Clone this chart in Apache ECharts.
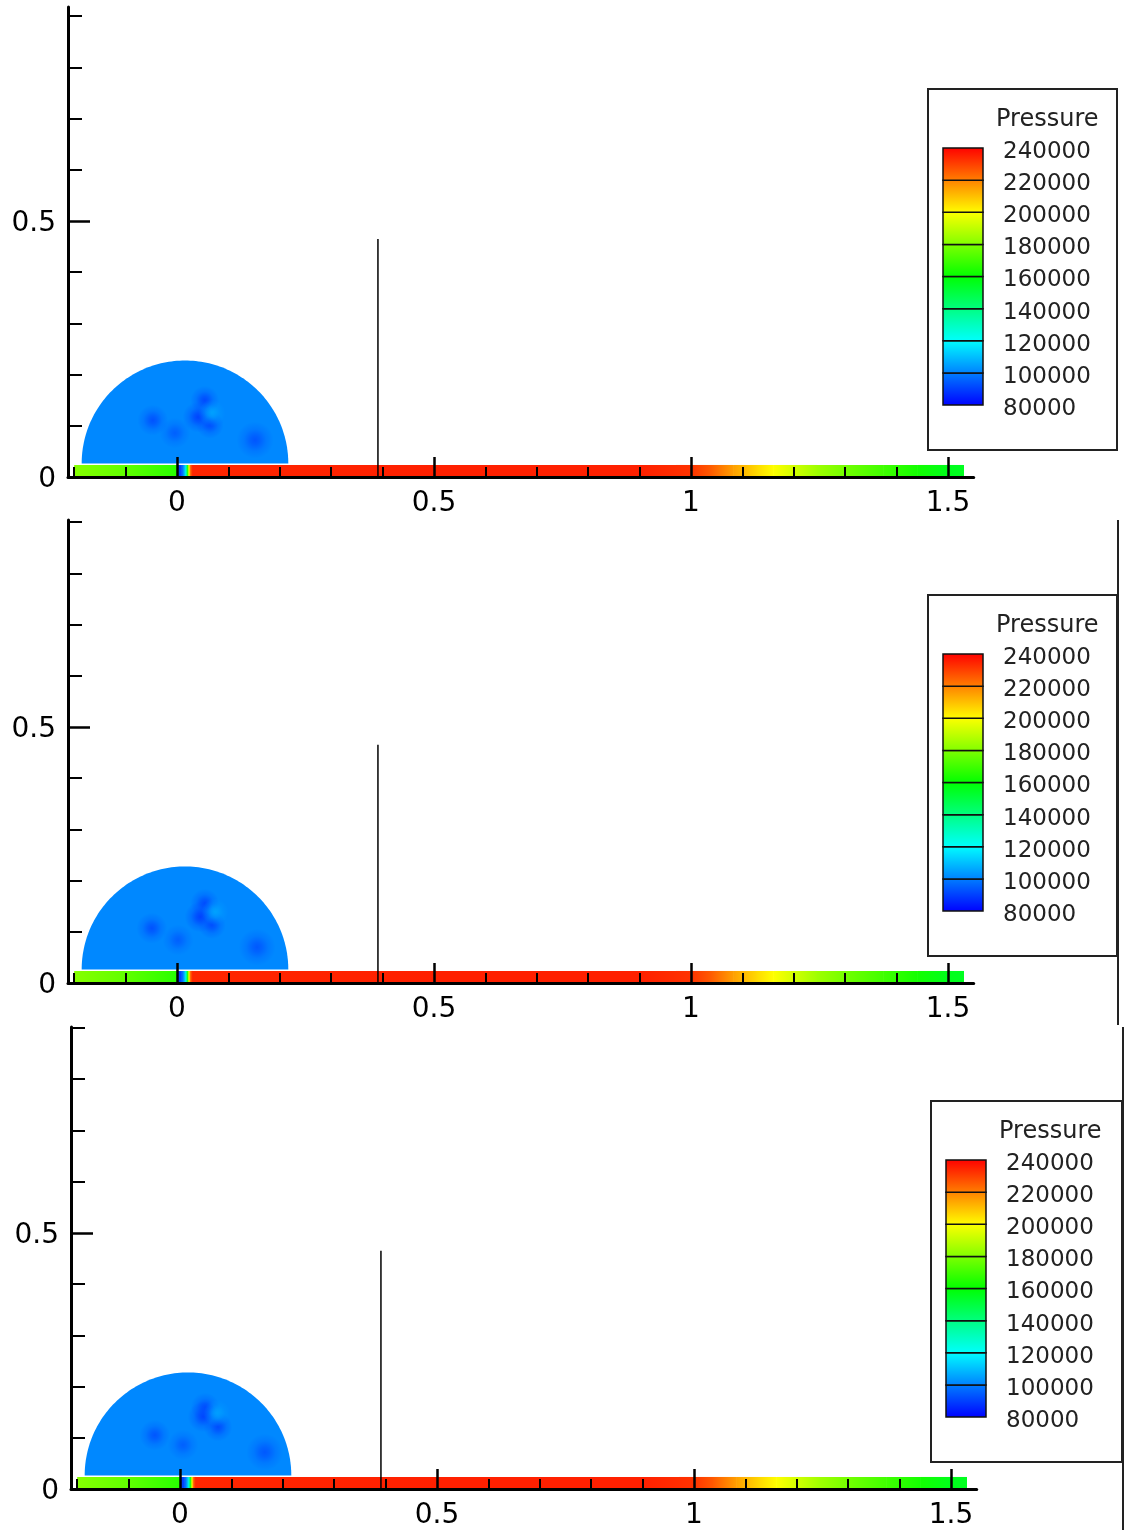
<!DOCTYPE html>
<html>
<head>
<meta charset="utf-8">
<script src="https://cdn.jsdelivr.net/npm/echarts@6/dist/echarts.min.js"></script>
<style>html,body{margin:0;padding:0;background:#fff;}#c{width:1127px;height:1530px;}</style>
</head>
<body>
<div id="c"></div>
<script>
// ---------- data ----------
const levels = [80000, 100000, 120000, 140000, 160000, 180000, 200000, 220000, 240000];
const mapColors = ['#0000ff', '#00ffff', '#00ff00', '#ffff00', '#ff0000'];
const xMajor = [0, 0.5, 1, 1.5];
const xMinor = [-0.2, -0.1, 0.1, 0.2, 0.3, 0.4, 0.6, 0.7, 0.8, 0.9, 1.1, 1.2, 1.3, 1.4];
const yMajor = [0, 0.5];
const yMinor = [0.1, 0.2, 0.3, 0.4, 0.6, 0.7, 0.8, 0.9];
// pressure along the bottom strip
const stripX = [-0.2, -0.1, -0.01, -0.001, 0.001, 0.008, 0.013, 0.017, 0.020, 0.023, 0.026, 0.03, 0.5, 0.9, 0.97, 1.0, 1.037, 1.082, 1.128, 1.16, 1.2, 1.245, 1.309, 1.374, 1.44, 1.498, 1.53];
const stripP = [181000, 175000, 167000, 166000, 88000, 92000, 105000, 125000, 160000, 200000, 225000, 234000, 235000, 235000, 233000, 232000, 226000, 215000, 206000, 200000, 193000, 185000, 177000, 170000, 163000, 156000, 155000];
const stripTop = 0.0235;
// dome (gas bubble)
const domeCenter = [0.0156, 0.0265];
const domeRadius = 0.201;
const domeP = 101300;
// low / high pressure spots inside the dome: [x, y, pressure, radius]
const spots1 = [[0.054, 0.150, 90000, 0.028], [0.041, 0.117, 89000, 0.03], [0.064, 0.102, 91000, 0.027], [-0.047, 0.111, 91500, 0.03], [-0.004, 0.086, 94000, 0.03], [0.152, 0.072, 92000, 0.036], [0.068, 0.125, 106000, 0.026]];
const spots2 = [[0.054, 0.156, 90500, 0.028], [0.045, 0.129, 88500, 0.03], [0.068, 0.113, 91000, 0.027], [-0.049, 0.107, 91500, 0.03], [0.002, 0.084, 94000, 0.03], [0.156, 0.070, 92500, 0.036], [0.074, 0.139, 106000, 0.026]];
const spots3 = [[0.049, 0.160, 91500, 0.028], [0.045, 0.141, 89500, 0.03], [0.074, 0.121, 90500, 0.028], [-0.049, 0.105, 92000, 0.03], [0.006, 0.086, 94000, 0.03], [0.165, 0.072, 92500, 0.036], [0.072, 0.148, 105500, 0.026]];
const wallX = [0.391, 0.391];
const wallY = [0, 0.465];
const xRange = [-0.212, 1.55];

// ---------- layout ----------
const FONT = 'DejaVu Sans';
const PXU = 514;
const panels = [
  {left: 68, top: 7,    height: 470, ymax: 0.918, box: [928, 89, 189, 361],  bar: [943, 148],  frame: null, spots: spots1},
  {left: 68, top: 520,  height: 463, ymax: 0.904, box: [928, 595, 189, 361], bar: [943, 654],  frame: [1118, 520, 1025], spots: spots2},
  {left: 71, top: 1027, height: 462, ymax: 0.902, box: [931, 1101, 191, 361], bar: [946, 1160], frame: [1123, 1027, 1530], spots: spots3}
];

const pMin = levels[0], pMax = levels[levels.length - 1];
function colorAt(p) {
  const t = Math.max(0, Math.min(1, (p - pMin) / (pMax - pMin)));
  return echarts.color.lerp(t, mapColors);
}

const stripData = [];
for (let i = 0; i < stripX.length - 1; i++) stripData.push([stripX[i], stripX[i + 1], stripP[i], stripP[i + 1]]);
const bandData = [];
for (let i = 0; i < levels.length - 1; i++) bandData.push([0, levels[i], levels[i + 1]]);

function renderStrip(params, api) {
  const a = api.coord([api.value(0), 0]);
  const b = api.coord([api.value(1), stripTop]);
  return {
    type: 'rect',
    shape: {x: a[0], y: b[1], width: b[0] - a[0] + 0.6, height: a[1] - b[1]},
    style: {fill: new echarts.graphic.LinearGradient(0, 0, 1, 0, [
      {offset: 0, color: colorAt(api.value(2))}, {offset: 1, color: colorAt(api.value(3))}])}
  };
}
function renderDome(params, api) {
  const cx = api.value(0), cy = api.value(1), r = api.value(2);
  const pts = [];
  const N = 120;
  for (let k = 0; k <= N; k++) {
    const th = Math.PI * k / N;
    pts.push(api.coord([cx + r * Math.cos(th), cy + r * Math.sin(th)]));
  }
  return {type: 'polygon', shape: {points: pts}, style: {fill: colorAt(domeP)}};
}
function renderSpot(params, api) {
  const c = api.coord([api.value(0), api.value(1)]);
  const rs = api.size([api.value(3), api.value(3)]);
  const col = colorAt(api.value(2));
  return {
    type: 'circle',
    shape: {cx: c[0], cy: c[1], r: rs[0]},
    style: {fill: new echarts.graphic.RadialGradient(0.5, 0.5, 0.5, [
      {offset: 0, color: echarts.color.modifyAlpha(col, 0.85)},
      {offset: 0.25, color: echarts.color.modifyAlpha(col, 0.65)},
      {offset: 0.6, color: echarts.color.modifyAlpha(col, 0.25)},
      {offset: 1, color: echarts.color.modifyAlpha(col, 0)}])}
  };
}
function renderBand(params, api) {
  const lo = api.value(1), hi = api.value(2);
  const tl = api.coord([0, hi]);
  const br = api.coord([1, lo]);
  return {
    type: 'rect',
    shape: {x: tl[0], y: tl[1], width: br[0] - tl[0], height: br[1] - tl[1]},
    style: {
      fill: new echarts.graphic.LinearGradient(0, 0, 0, 1, [
        {offset: 0, color: colorAt(hi)}, {offset: 1, color: colorAt(lo)}]),
      stroke: '#111', lineWidth: 1.5
    }
  };
}

const grid = [], xAxis = [], yAxis = [], series = [], title = [], graphic = [];
panels.forEach((P, i) => {
  const W = (xRange[1] - xRange[0]) * PXU;
  grid.push({left: P.left, top: P.top, width: W, height: P.height, containLabel: false});        // plot
  grid.push({left: P.bar[0], top: P.bar[1], width: 40, height: 257, containLabel: false});      // colour bar
  grid.push({left: P.bar[0], top: P.bar[1] + 4, width: 40, height: 257, containLabel: false});  // colour bar labels
  grid.push({left: P.left, top: P.top + 3, width: W, height: P.height, containLabel: false});    // y labels
  const g = 4 * i;
  // plot axes: x index 4i (major), 4i+1 (minor); y index 4i, 4i+1
  xAxis.push({type: 'value', gridIndex: g, position: 'bottom', min: xRange[0], max: xRange[1], z: 5,
    axisLine: {show: true, onZero: false, lineStyle: {color: '#000', width: 3}},
    axisTick: {show: true, inside: true, length: 20, customValues: xMajor, lineStyle: {color: '#000', width: 2.5}},
    axisLabel: {show: true, customValues: xMajor, margin: 13, color: '#000', fontFamily: FONT, fontSize: 28, formatter: v => String(v)},
    splitLine: {show: false}});
  xAxis.push({type: 'value', gridIndex: g, position: 'bottom', min: xRange[0], max: xRange[1], z: 5,
    axisLine: {show: false, onZero: false},
    axisTick: {show: true, inside: true, length: 10, customValues: xMinor, lineStyle: {color: '#000', width: 2}},
    axisLabel: {show: false}, splitLine: {show: false}});
  xAxis.push({type: 'value', gridIndex: g + 1, min: 0, max: 1, show: false});
  xAxis.push({type: 'value', gridIndex: g + 2, min: 0, max: 1, show: false});
  xAxis.push({type: 'value', gridIndex: g + 3, min: xRange[0], max: xRange[1], show: false});

  yAxis.push({type: 'value', gridIndex: g, position: 'left', min: 0, max: P.ymax, z: 5,
    axisLine: {show: true, onZero: false, lineStyle: {color: '#000', width: 3}},
    axisTick: {show: true, inside: true, length: 22, customValues: yMajor, lineStyle: {color: '#000', width: 2.5}},
    axisLabel: {show: false}, splitLine: {show: false}});
  yAxis.push({type: 'value', gridIndex: g, position: 'left', min: 0, max: P.ymax, z: 5,
    axisLine: {show: false, onZero: false},
    axisTick: {show: true, inside: true, length: 14, customValues: yMinor, lineStyle: {color: '#000', width: 2}},
    axisLabel: {show: false}, splitLine: {show: false}});
  yAxis.push({type: 'value', gridIndex: g + 1, min: pMin, max: pMax, interval: 20000, show: false});
  yAxis.push({type: 'value', gridIndex: g + 2, min: pMin, max: pMax, interval: 20000, position: 'right',
    axisLine: {show: false}, axisTick: {show: false}, splitLine: {show: false},
    axisLabel: {show: true, margin: 20, showMinLabel: true, showMaxLabel: true, color: '#222', fontFamily: FONT, fontSize: 23, formatter: v => String(v)}});
  yAxis.push({type: 'value', gridIndex: g + 3, position: 'left', min: 0, max: P.ymax,
    axisLine: {show: false, onZero: false}, axisTick: {show: false}, splitLine: {show: false},
    axisLabel: {show: true, customValues: yMajor, margin: 12, color: '#000', fontFamily: FONT, fontSize: 28, formatter: v => String(v)}});

  const ai = 5 * i;
  series.push({type: 'custom', xAxisIndex: ai, yAxisIndex: ai, z: 2, renderItem: renderStrip, data: stripData, encode: {x: [0, 1], y: 2}, silent: true});
  series.push({type: 'custom', xAxisIndex: ai, yAxisIndex: ai, z: 2, renderItem: renderDome, data: [[domeCenter[0], domeCenter[1], domeRadius]], encode: {x: 0, y: 1}, silent: true});
  series.push({type: 'custom', xAxisIndex: ai, yAxisIndex: ai, z: 3, renderItem: renderSpot, data: P.spots, encode: {x: 0, y: 1}, silent: true});
  series.push({type: 'line', xAxisIndex: ai, yAxisIndex: ai, z: 6, symbol: 'none', silent: true,
    data: wallX.map((x, k) => [x, wallY[k]]), lineStyle: {color: '#000', width: 1.5}});
  series.push({type: 'custom', xAxisIndex: ai + 2, yAxisIndex: ai + 2, z: 3, renderItem: renderBand, data: bandData, encode: {x: 0, y: [1, 2]}, silent: true});
  title.push({text: 'Pressure', left: P.box[0] + 63, top: P.box[1] + 14,
    textStyle: {fontFamily: FONT, fontSize: 24, fontWeight: 'normal', color: '#222'}});
  graphic.push({type: 'rect', shape: {x: P.box[0], y: P.box[1], width: P.box[2], height: P.box[3]},
    style: {fill: 'none', stroke: '#222', lineWidth: 2}, silent: true});
  if (P.frame) {
    graphic.push({type: 'line', shape: {x1: P.frame[0], y1: P.frame[1], x2: P.frame[0], y2: P.frame[2]},
      style: {stroke: '#222', lineWidth: 2}, silent: true});
  }
});

const chart = echarts.init(document.getElementById('c'), null, {renderer: 'canvas'});
chart.setOption({animation: false, backgroundColor: '#fff', title, grid, xAxis, yAxis, series, graphic});
</script>
</body>
</html>
